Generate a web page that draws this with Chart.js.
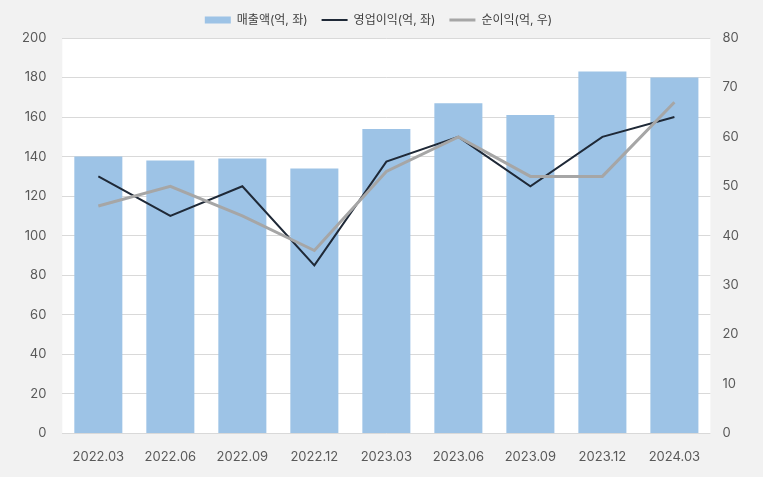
<!DOCTYPE html>
<html>
<head>
<meta charset="utf-8">
<script src="https://cdn.jsdelivr.net/npm/chart.js@4/dist/chart.umd.min.js"></script>
<style>
  html, body { margin: 0; padding: 0; background: #f2f2f2; }
  #wrap { width: 763px; height: 477px; }
</style>
</head>
<body>
<div id="wrap"><canvas id="c" width="763" height="477"></canvas></div>
<script>
const categories = ["2022.03", "2022.06", "2022.09", "2022.12", "2023.03", "2023.06", "2023.09", "2023.12", "2024.03"];
const revenue = [140, 138, 139, 134, 154, 167, 161, 183, 180];
const operatingProfit = [52, 44, 50, 34, 55, 60, 50, 60, 64];
const netProfit = [46, 50, 44, 37, 53, 60, 52, 52, 67];
const leftTicks = [0, 20, 40, 60, 80, 100, 120, 140, 160, 180, 200];
const rightTicks = [0, 10, 20, 30, 40, 50, 60, 70, 80];

const plotBg = {
  id: 'plotBg',
  beforeDraw(chart) {
    const { ctx, chartArea: a } = chart;
    ctx.save();
    ctx.fillStyle = '#ffffff';
    ctx.fillRect(a.left, a.top, a.right - a.left, a.bottom - a.top);
    ctx.restore();
  }
};

const legendMargin = {
  id: 'legendMargin',
  beforeInit(chart) {
    const fit = chart.legend.fit;
    chart.legend.fit = function () {
      fit.call(this);
      this.height += 2;
    };
  }
};

const FONT = 'Inter, "Noto Sans CJK KR", sans-serif';

new Chart(document.getElementById('c'), {
  type: 'bar',
  data: {
    labels: categories,
    datasets: [
      {
        type: 'line',
        label: '영업이익(억, 좌)',
        data: operatingProfit,
        yAxisID: 'y2',
        borderColor: '#1f2937',
        backgroundColor: '#1f2937',
        borderWidth: 2,
        pointRadius: 0,
        tension: 0,
        order: 1
      },
      {
        type: 'line',
        label: '순이익(억, 우)',
        data: netProfit,
        yAxisID: 'y2',
        borderColor: '#a6a6a6',
        backgroundColor: '#a6a6a6',
        borderWidth: 3,
        pointRadius: 0,
        tension: 0,
        order: 0
      },
      {
        type: 'bar',
        label: '매출액(억, 좌)',
        data: revenue,
        yAxisID: 'y',
        backgroundColor: '#9dc3e6',
        borderWidth: 0,
        barPercentage: 0.667,
        categoryPercentage: 1.0,
        order: 2
      }
    ]
  },
  options: {
    responsive: false,
    animation: false,
    layout: { padding: { left: 6, right: 12, top: 0, bottom: 4 } },
    plugins: {
      legend: {
        position: 'top',
        labels: {
          font: { family: FONT, size: 12 },
          color: '#404040',
          usePointStyle: true,
          boxWidth: 26,
          boxHeight: 7,
          pointStyleWidth: 26,
          padding: 14,
          sort: (a, b) => {
            const ord = ['매출액(억, 좌)', '영업이익(억, 좌)', '순이익(억, 우)'];
            return ord.indexOf(a.text) - ord.indexOf(b.text);
          },
          generateLabels(chart) {
            return chart.data.datasets.map((ds, i) => ({
              text: ds.label,
              fillStyle: ds.backgroundColor,
              strokeStyle: ds.type === 'line' ? ds.borderColor : ds.backgroundColor,
              lineWidth: ds.type === 'line' ? ds.borderWidth : 0,
              pointStyle: ds.type === 'line' ? 'line' : 'rect',
              hidden: false,
              datasetIndex: i,
              fontColor: '#404040'
            }));
          }
        }
      },
      tooltip: { enabled: false }
    },
    scales: {
      x: {
        grid: { display: false },
        border: { display: false },
        ticks: { font: { family: FONT, size: 13 }, color: '#595959', padding: 8 }
      },
      y: {
        position: 'left',
        min: 0, max: 200,
        afterBuildTicks(axis) { axis.ticks = leftTicks.map(v => ({ value: v })); },
        grid: { color: '#d9d9d9', lineWidth: 1, drawTicks: false },
        border: { display: false },
        ticks: { font: { family: FONT, size: 13 }, color: '#595959', padding: 16 }
      },
      y2: {
        position: 'right',
        min: 0, max: 80,
        afterBuildTicks(axis) { axis.ticks = rightTicks.map(v => ({ value: v })); },
        grid: { display: false, drawTicks: false },
        border: { display: false },
        ticks: { font: { family: FONT, size: 13 }, color: '#595959', padding: 12 }
      }
    }
  },
  plugins: [plotBg, legendMargin]
});
</script>
</body>
</html>
